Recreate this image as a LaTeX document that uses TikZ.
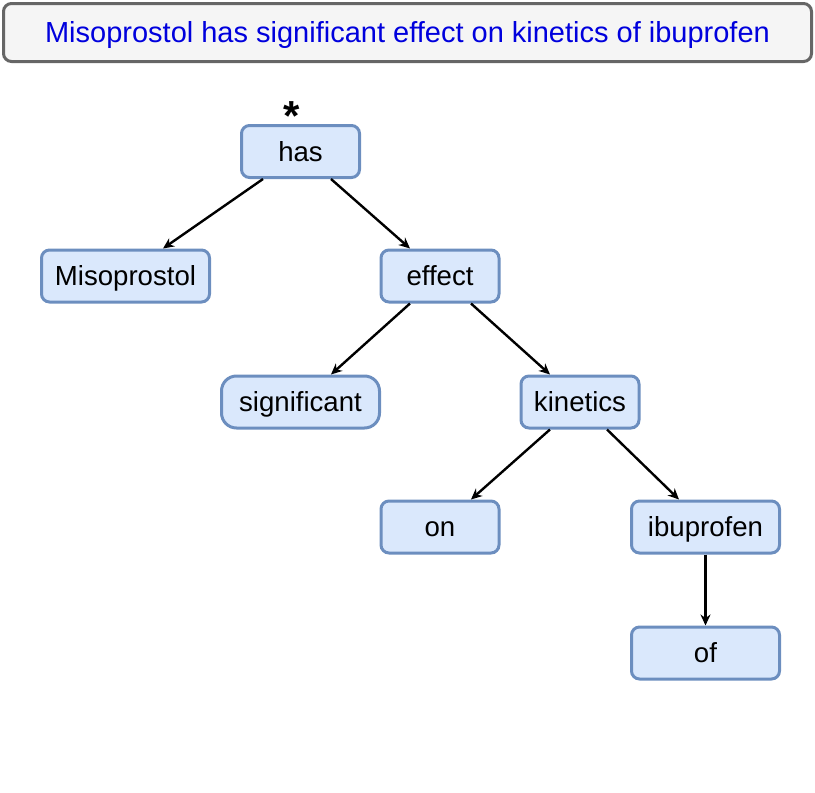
\documentclass[tikz,border=0pt]{standalone}
\usepackage{fontspec}
\setmainfont{Liberation Sans}
\usepackage{tikz}
\usetikzlibrary{
	positioning,
	arrows.meta
}

\definecolor{wordfill}{HTML}{DAE8FC}
\definecolor{wordedge}{HTML}{6C8EBF}
\definecolor{titlefill}{HTML}{F5F5F5}
\definecolor{titleedge}{HTML}{666666}
\definecolor{titletext}{HTML}{0000DD}

\tikzset{
	word/.style={draw=wordedge, fill=wordfill, line width=1.5pt,
		rounded corners=4pt, minimum width=59pt, minimum height=26pt,
		inner sep=0pt, text height=9.8pt, text depth=0pt,
		font=\fontsize{13.8}{16}\selectfont},
	wideword/.style={word, minimum width=#1},
	link/.style={line width=1.2pt, -{Stealth[length=5.5pt,width=5pt]}}
}

\begin{document}
\begin{tikzpicture}[x=0.5pt, y=-0.5pt]
		\useasboundingbox (0,0) rectangle (815,793);

		% sentence
		\node[draw=titleedge, fill=titlefill, line width=1.5pt, rounded corners=4pt,
			minimum width=404pt, minimum height=29pt, inner sep=0pt,
			text height=10.4pt, text depth=0pt, text=titletext,
			font=\fontsize{14.5}{17}\selectfont] (sentence) at (407.5,32.5)
			{Misoprostol has significant effect on kinetics of ibuprofen};

		% tree
		\node[word] (has) at (300.5,151.5) {has};
		\node[anchor=north, inner sep=0pt, font=\fontsize{21}{21}\bfseries\selectfont]
			(root) at (291.5,101) {*};

		\node[wideword=84pt] (misoprostol) at (125.5,276) {Misoprostol};
		\node[word] (effect) at (440,276) {effect};

		\node[wideword=79pt, rounded corners=7.5pt] (significant) at (300.5,402) {significant};
		\node[word] (kinetics) at (580,402) {kinetics};

		\node[word] (on) at (440,527) {on};
		\node[wideword=74pt] (ibuprofen) at (705.5,527) {ibuprofen};

		\node[wideword=74pt] (of) at (705.5,653) {of};

		\draw[link] ([xshift=-18.75pt]has.south) -- ([xshift=18.75pt]misoprostol.north);
		\draw[link] ([xshift=15.25pt]has.south) -- ([xshift=-15pt]effect.north);
		\draw[link] ([xshift=-15pt]effect.south) -- ([xshift=15.25pt]significant.north);
		\draw[link] ([xshift=15.5pt]effect.south) -- ([xshift=-15pt]kinetics.north);
		\draw[link] ([xshift=-15pt]kinetics.south) -- ([xshift=15.5pt]on.north);
		\draw[link] ([xshift=13.5pt]kinetics.south) -- ([xshift=-13.25pt]ibuprofen.north);
		\draw[link] (ibuprofen.south) -- (of.north);
	\end{tikzpicture}
\end{document}
